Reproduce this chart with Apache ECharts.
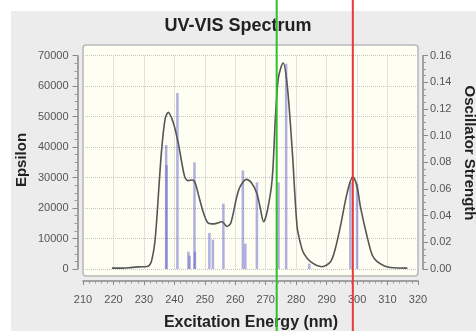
<!DOCTYPE html>
<html><head><meta charset="utf-8">
<script src="https://cdn.jsdelivr.net/npm/echarts@6/dist/echarts.min.js"></script>
<style>html,body{margin:0;padding:0;background:#fff}#c{width:476px;height:331px}</style>
</head><body><div id="c"></div>
<script>
// Absorption curve: [wavelength nm, epsilon]
const spectrum = [[219.5,300],[223,300],[225,400],[228,700],[231,800],[232,1500],[232.6,3000],[233.5,8000],[234.2,16000],[235,28000],[235.9,40000],[237,49400],[238,51400],[239.7,47800],[241.3,41200],[242.5,34600],[243.5,30000],[244.6,29000],[245.8,29200],[246.8,28300],[248,24000],[249.6,18300],[251.2,15000],[253,14800],[255.7,15500],[257.2,14000],[258.5,15000],[260.5,23700],[261.6,27000],[263.6,29400],[265.3,28300],[267.1,24800],[268.3,19500],[269.3,15500],[270.5,19000],[272.1,29200],[273.2,50000],[274.2,63000],[275.7,67600],[277,60900],[278.7,39000],[280.3,13900],[281.5,8000],[282.5,5100],[284.7,2400],[288.5,750],[291.3,2400],[292.8,6500],[294.5,13900],[296.7,24800],[298.6,30300],[300,27000],[301.1,20400],[303.3,10600],[305,4500],[306.6,2400],[309,1000],[311,500],[316.5,300]];
// Oscillator strength sticks: [wavelength nm, f]
const sticks = [[237.3,0.093],[237.45,0.078],[241.0,0.132],[244.6,0.013],[245.0,0.010],[246.6,0.080],[246.75,0.013],[251.5,0.027],[252.65,0.022],[256.1,0.049],[262.5,0.074],[263.3,0.019],[267.1,0.065],[274.2,0.065],[276.7,0.154],[284.3,0.004],[297.8,0.065],[300.0,0.064]];
// Marker lines (nm)
const greenMarker = 273.6;
const redMarker = 298.6;
const xTicks = {min:210, max:320, interval:10};
const epsTicks = {min:0, max:70000, interval:10000};
const oscTicks = {min:0, max:0.16, interval:0.02};

const chart = echarts.init(document.getElementById('c'), null, {renderer:'canvas'});
const font = 'Liberation Sans, Arial, sans-serif';
const option = {
  animation:false,
  backgroundColor:'#ffffff',
  title:{text:'UV-VIS Spectrum', left:'center', top:12,
    textStyle:{fontFamily:font, fontWeight:'bold', fontSize:18, color:'#222'}},
  grid:{left:83, right:58, top:55.7, bottom:62, containLabel:false},
  xAxis:{type:'value', min:xTicks.min, max:xTicks.max, interval:xTicks.interval,
    offset:12,
    axisLine:{show:true, onZero:false, lineStyle:{color:'#888', width:1.5}},
    axisTick:{show:true, length:4, lineStyle:{color:'#888'}},
    minorTick:{show:true, splitNumber:5, length:2.5, lineStyle:{color:'#999'}},
    axisLabel:{fontFamily:font, fontSize:11, color:'#555', margin:13},
    splitLine:{show:true, lineStyle:{color:'#c4c4c4', type:'dotted', width:1}}
  },
  yAxis:[
    {type:'value', min:epsTicks.min, max:epsTicks.max, interval:epsTicks.interval, position:'left', offset:5.5,
     axisLine:{show:true, lineStyle:{color:'#888', width:1.5}},
     axisTick:{show:true, length:5, lineStyle:{color:'#888'}},
     minorTick:{show:true, splitNumber:4, length:3, lineStyle:{color:'#999'}},
     axisLabel:{fontFamily:font, fontSize:11, color:'#555', margin:9, formatter:v=>String(v)},
     splitLine:{show:true, lineStyle:{color:'#c4c4c4', type:'dotted', width:1}}},
    {type:'value', min:oscTicks.min, max:oscTicks.max, interval:oscTicks.interval, position:'right', offset:5,
     axisLine:{show:true, lineStyle:{color:'#888', width:1.5}},
     axisTick:{show:true, length:5, lineStyle:{color:'#888'}},
     minorTick:{show:true, splitNumber:4, length:3, lineStyle:{color:'#999'}},
     axisLabel:{fontFamily:font, fontSize:11, color:'#555', margin:7, formatter:v=>v.toFixed(2)},
     splitLine:{show:false}}
  ],
  graphic:[
    {type:'rect', z:-30, shape:{x:11,y:11,width:465,height:320}, style:{fill:'#ececec'}},
    {type:'rect', z:-20, shape:{x:83,y:45,width:335,height:231,r:3}, style:{fill:'#fefef3', stroke:'#b8b8b8', lineWidth:1.5}},
    {type:'text', x:22, y:160, rotation:Math.PI/2, style:{text:'Epsilon', fontFamily:font, fontWeight:'bold', fontSize:15, fill:'#222', textAlign:'center', textVerticalAlign:'middle'}},
    {type:'text', x:469, y:153, rotation:-Math.PI/2, style:{text:'Oscillator Strength', fontFamily:font, fontWeight:'bold', fontSize:15, fill:'#222', textAlign:'center', textVerticalAlign:'middle'}},
    {type:'text', x:251, y:323, style:{text:'Excitation Energy (nm)', fontFamily:font, fontWeight:'bold', fontSize:16, fill:'#222', textAlign:'center', textVerticalAlign:'middle'}}
  ],
  series:[
    {type:'bar', yAxisIndex:1, data:sticks, barWidth:2.5, barGap:'-100%',
     itemStyle:{color:'rgba(95,95,205,0.5)'}, z:2},
    {type:'line', yAxisIndex:0, data:spectrum, smooth:0.3, showSymbol:false,
     lineStyle:{color:'#555', width:1.6}, z:3}
  ]
};
chart.setOption(option);
const gx = chart.convertToPixel({xAxisIndex:0}, greenMarker);
const rx = chart.convertToPixel({xAxisIndex:0}, redMarker);
chart.setOption({graphic:option.graphic.concat([
  {type:'line', z:100, shape:{x1:gx,y1:0,x2:gx,y2:331}, style:{stroke:'#2fbf2f', lineWidth:2}},
  {type:'line', z:100, shape:{x1:rx,y1:0,x2:rx,y2:331}, style:{stroke:'#e83a3a', lineWidth:2}}
])});
</script></body></html>
